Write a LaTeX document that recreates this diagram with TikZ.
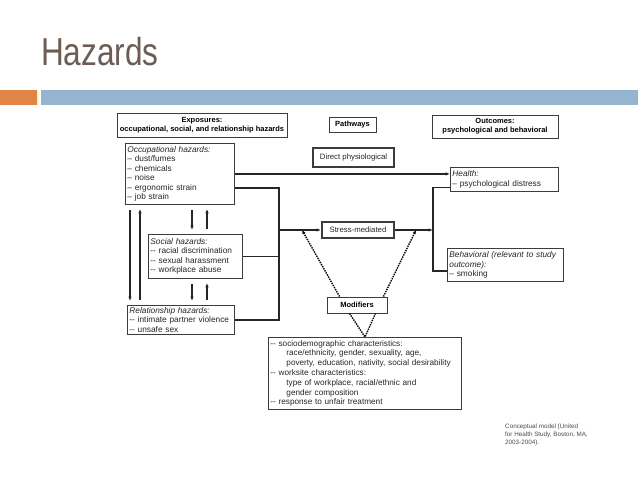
\documentclass[tikz,border=0pt]{standalone}
\usepackage{fontspec}
\setmainfont{Liberation Sans}
\usetikzlibrary{arrows.meta, positioning}
\usepackage{xcolor}
\definecolor{titlegray}{RGB}{108,92,84}
\definecolor{barorange}{RGB}{224,132,72}
\definecolor{barblue}{RGB}{149,180,208}
\definecolor{boxgray}{RGB}{60,60,60}

\begin{document}
\begin{tikzpicture}[
    x=1pt, y=-1pt,
    box/.style={draw=boxgray, line width=0.9pt, rectangle, inner sep=2pt, align=left, anchor=north west, text=black!85, font=\fontsize{8.3}{9.5}\selectfont},
    head/.style={draw=boxgray, line width=0.9pt, rectangle, inner sep=1pt, align=center, font=\bfseries\fontsize{7.5}{9}\selectfont},
    pathway/.style={draw=boxgray, line width=2pt, rectangle, inner sep=1pt, text=black!85, font=\fontsize{7.8}{9}\selectfont},
    line/.style={line width=1.5pt, black!85},
    arrow/.style={line, -{Latex[length=4.5pt,width=3.6pt]}},
    modarrow/.style={line width=1.4pt, densely dotted, -{Latex[length=4pt,width=3.4pt]}},
    gaps/.style={shorten <=5pt, shorten >=4pt}
]

% Seite
\fill[white] (0,0) rectangle (638,479);
\useasboundingbox (0,0) rectangle (638,479);
\node[anchor=base west, text=titlegray, font=\fontsize{39}{40}\selectfont, xscale=0.81, transform shape, inner sep=0] (title) at (41,65) {Hazards};
\fill[barorange] (0,90) rectangle (37,105);
\fill[barblue] (41,90) rectangle (638,105);

% Kopfzeile
\node[head, minimum width=170pt, minimum height=24pt] (expo) at (202,125) {Exposures:\\occupational, social, and relationship hazards};
\node[head, minimum width=47pt, minimum height=15pt] (pathw) at (352.5,124.5) {Pathways};
\node[head, minimum width=126pt, minimum height=23pt] (outc) at (495,126.5) {Outcomes:\\psychological and behavioral};

% Expositionen
\node[box, text width=105pt, minimum height=61pt] (occ) at (125,143) {\textit{Occupational hazards:}\\– dust/fumes\\– chemicals\\– noise\\– ergonomic strain\\– job strain};
\node[box, text width=90pt, minimum height=44pt] (soc) at (148,234) {\textit{Social hazards:}\\-{}- racial discrimination\\-{}- sexual harassment\\-{}- workplace abuse};
\node[box, text width=103pt, minimum height=29pt] (rel) at (127,305) {\textit{Relationship hazards:}\\-{}- intimate partner violence\\-{}- unsafe sex};

% Pfade
\node[pathway, minimum width=81pt, minimum height=19pt] (direct) at (353.5,157.5) {Direct physiological};
\node[pathway, minimum width=72pt, minimum height=16pt] (stress) at (358,230) {Stress-mediated};
\node[head, minimum width=60pt, minimum height=16pt] (mod) at (357,305) {Modifiers};
\node[box, text width=189pt, minimum height=72pt, font=\fontsize{8.2}{9.8}\selectfont] (chars) at (268,337) {-{}- sociodemographic characteristics:\\\hspace*{16pt}race/ethnicity, gender, sexuality, age,\\\hspace*{16pt}poverty, education, nativity, social desirability\\-{}- worksite characteristics:\\\hspace*{16pt}type of workplace, racial/ethnic and\\\hspace*{16pt}gender composition\\-{}- response to unfair treatment};

% Ergebnisse
\node[box, text width=104pt, minimum height=24pt] (health) at (450,167) {\textit{Health:}\\– psychological distress};
\node[box, text width=112pt, minimum height=33pt] (behav) at (447,248) {\textit{Behavioral (relevant to study}\\\textit{outcome):}\\– smoking};

\node[anchor=north west, align=left, text=black!70, inner sep=0, font=\fontsize{6.3}{8}\selectfont] (note) at (505,424) {Conceptual model (United\\for Health Study, Boston, MA,\\2003-2004).};

% Hilfspunkte
\coordinate (jx) at (279,230);
\coordinate (jy) at (433,230);
\coordinate (ld) at (130,0);
\coordinate (lu) at (140,0);
\coordinate (dn) at (192,0);
\coordinate (up) at (207,0);
\coordinate (bw) at ([yshift=-6pt]behav.west);

% Verbindungen
\draw[arrow] (occ.east) -- (occ.east -| health.west);
\draw[line] ([yshift=-14pt]occ.east) -| (jx |- rel.east) -- (rel.east);
\draw[line] (soc.east) -- (soc.east -| jx);
\draw[arrow] (jx) -- (stress.west);
\draw[arrow] (stress.east) -- (jy);
\draw[line] ([yshift=-8pt]health.west) -| (bw -| jy) -- (bw);

\foreach \t/\b in {occ/soc, soc/rel} {
  \draw[arrow, gaps] (dn |- \t.south) -- (dn |- \b.north);
  \draw[arrow, gaps] (up |- \b.north) -- (up |- \t.south);
}
\draw[arrow, gaps] (ld |- occ.south) -- (ld |- rel.north);
\draw[arrow, gaps] (lu |- rel.north) -- (lu |- occ.south);

% Moderatoren
\draw[modarrow] ([xshift=13pt]mod.north west) -- ([xshift=-19pt]stress.west);
\draw[modarrow] ([xshift=-4pt]mod.north east) -- ([xshift=21pt]stress.east);
\draw[line width=1.4pt, densely dotted] ([xshift=23pt]mod.south west) -- (chars.north) -- ([xshift=-12pt]mod.south east);

\end{tikzpicture}
\end{document}
